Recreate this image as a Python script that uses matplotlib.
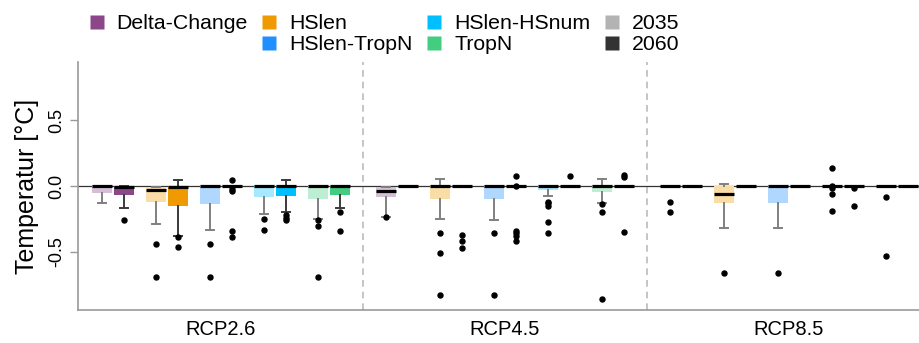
import numpy as np
import matplotlib.pyplot as plt
from matplotlib.lines import Line2D

plt.rcParams['font.family'] = ['Liberation Sans', 'DejaVu Sans']

scenarios = ["RCP2.6", "RCP4.5", "RCP8.5"]
models = ["Delta-Change", "HSlen", "HSlen-TropN", "HSlen-HSnum", "TropN"]
years = ["2035", "2060"]
model_colors = ["#8B4789", "#EE9A00", "#1E90FF", "#00BFFF", "#43CD80"]
year_colors = ["#B3B3B3", "#333333"]

# box statistics, one row per scenario, columns: model x (2035, 2060)
q3 = [
    [0, 0, -0.005, 0, 0, 0, 0, 0, 0, 0],
    [-0.005, 0, 0, 0, 0, 0, 0, 0, 0, 0],
    [0, 0, 0, 0, 0, 0, 0, 0, 0, 0],
]
med = [
    [0, -0.005, -0.03, -0.01, 0, 0, 0, 0, 0, 0],
    [-0.035, 0, 0, 0, 0, 0, 0, 0, 0, 0],
    [0, 0, -0.058, 0, 0, 0, 0, 0, 0, 0],
]
q1 = [
    [-0.05, -0.068, -0.119, -0.149, -0.134, 0, -0.086, -0.078, -0.10, -0.066],
    [-0.086, 0, -0.10, 0, -0.10, 0, -0.033, 0, -0.048, 0],
    [0, 0, -0.127, 0, -0.13, 0, 0, 0, 0, 0],
]
whis_lo = [
    [-0.126, -0.164, -0.29, -0.376, -0.333, 0, -0.21, -0.195, -0.252, -0.164],
    [-0.232, 0, -0.25, 0, -0.255, 0, -0.076, 0, -0.129, 0],
    [0, 0, -0.316, 0, -0.316, 0, 0, 0, 0, 0],
]
whis_hi = [
    [0, 0, -0.005, 0.048, 0, 0, 0, 0.048, 0, 0],
    [-0.005, 0, 0.05, 0, 0, 0, 0, 0, 0.05, 0],
    [0, 0, 0.013, 0, 0, 0, 0, 0, 0, 0],
]
outliers = [
    [[], [-0.258], [-0.44, -0.69], [-0.39, -0.462], [-0.44, -0.69],
     [0.045, -0.02, -0.04, -0.338, -0.389], [-0.252, -0.33],
     [-0.222, -0.24, -0.255], [-0.255, -0.30, -0.69], [-0.195, -0.34]],
    [[-0.237], [], [-0.36, -0.51, -0.83], [-0.37, -0.42, -0.47], [-0.36, -0.83],
     [0.078, 0.0, -0.34, -0.36, -0.376, -0.417],
     [-0.119, -0.131, -0.149, -0.273, -0.36], [0.078],
     [-0.14, -0.195, -0.856], [0.08, 0.066, -0.346]],
    [[-0.119, -0.195], [], [-0.66], [], [-0.66], [],
     [0.136, 0.0, -0.013, -0.061, -0.187], [-0.018, -0.154], [-0.08, -0.53], []],
]

model_step = 0.19
year_step = 0.0387
box_w = 0.072


def lighten(hex_col, a=0.35):
    rgb = np.array([int(hex_col[i:i + 2], 16) for i in (1, 3, 5)]) / 255.0
    return tuple(1 - a * (1 - rgb))


fig = plt.figure(figsize=(9.19, 3.43), dpi=100)
ax = fig.add_axes([78 / 919, 33 / 343, 841 / 919, 248 / 343])

ax.axhline(0, color="#333333", lw=0.9, zorder=1)
for xs in [0.5, 1.5]:
    ax.axvline(xs, color="#BBBBBB", lw=1.2, ls=(0, (4, 3)), zorder=0)

for s in range(len(scenarios)):
    for m in range(len(models)):
        for y in range(2):
            k = m * 2 + y
            pos = s + (m - 2) * model_step + (y - 0.5) * 2 * year_step
            st = dict(med=med[s][k], q1=q1[s][k], q3=q3[s][k],
                      whislo=whis_lo[s][k], whishi=whis_hi[s][k],
                      fliers=outliers[s][k])
            face = model_colors[m] if y == 1 else lighten(model_colors[m])
            wcol = "#3A3A3A" if y == 1 else "#808080"
            ax.bxp([st], positions=[pos], widths=box_w, patch_artist=True,
                   manage_ticks=False,
                   boxprops=dict(facecolor=face, edgecolor="none"),
                   medianprops=dict(color="black", lw=2.3, solid_capstyle="butt"),
                   whiskerprops=dict(color=wcol, lw=1.4),
                   capprops=dict(color=wcol, lw=1.4),
                   capwidths=box_w * 0.4,
                   flierprops=dict(marker="o", markerfacecolor="black",
                                   markeredgecolor="black", markersize=3.6))

ax.set_xlim(-0.5035, 2.458)
ax.set_ylim(-0.94, 0.94)
ax.set_xticks(range(len(scenarios)))
ax.set_xticklabels(scenarios, fontsize=14.5)
ax.tick_params(axis="x", length=0, pad=7)
ax.set_yticks([-0.5, 0.0, 0.5])
ax.set_yticklabels(["-0.5", "0.0", "0.5"], rotation=90, va="center", fontsize=13)
ax.tick_params(axis="y", length=6, width=1, color="#999999", pad=3)
for side in ["top", "right"]:
    ax.spines[side].set_visible(False)
for side in ["left", "bottom"]:
    ax.spines[side].set_color("#999999")
    ax.spines[side].set_linewidth(1.2)
ax.set_ylabel("Temperatur [°C]", fontsize=18, labelpad=7)

handles = [Line2D([], [], ls="none", marker="s", markersize=10,
                  markerfacecolor=model_colors[0], markeredgecolor="none"),
           Line2D([], [], ls="none")]
labels = [models[0], ""]
for m in range(1, len(models)):
    handles.append(Line2D([], [], ls="none", marker="s", markersize=10,
                          markerfacecolor=model_colors[m], markeredgecolor="none"))
    labels.append(models[m])
for y in range(2):
    handles.append(Line2D([], [], ls="none", marker="s", markersize=10,
                          markerfacecolor=year_colors[y], markeredgecolor="none"))
    labels.append(years[y])

fig.legend(handles, labels, ncol=4, loc="upper left",
           bbox_to_anchor=(88 / 919, 1 - 14 / 343), frameon=False, fontsize=15.3,
           handlelength=0.8, handletextpad=0.55, columnspacing=0.6,
           labelspacing=0.1, borderpad=0, borderaxespad=0)

fig.savefig("out.png", dpi=100)
